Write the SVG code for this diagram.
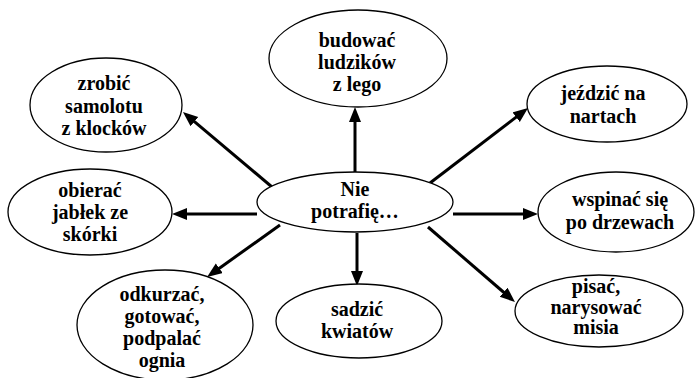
<svg xmlns="http://www.w3.org/2000/svg" width="696" height="378" viewBox="0 0 696 378">
  <defs>
    <marker id="head" markerUnits="userSpaceOnUse" markerWidth="16" markerHeight="13" refX="5" refY="6" orient="auto">
      <path d="M0,0 L15,6 L0,12 z" fill="#000000"/>
    </marker>
  </defs>
  <rect width="696" height="378" fill="#ffffff"/>

  <!-- spokes from the central idea; shared stroke set on the group -->
  <g id="connectors" stroke="#000000" stroke-width="3" fill="none" marker-end="url(#head)">
    <line x1="355" y1="172" x2="355" y2="117"/>
    <line x1="272" y1="187" x2="190.6" y2="118.4"/>
    <line x1="430" y1="183" x2="520.1" y2="114.1"/>
    <line x1="257" y1="214" x2="182" y2="214"/>
    <line x1="453" y1="214" x2="528" y2="214"/>
    <line x1="428" y1="227" x2="507.4" y2="295.5"/>
    <line x1="357" y1="233" x2="357" y2="276"/>
    <line x1="280" y1="225" x2="215.2" y2="271.2"/>
  </g>

  <!-- bubbles; shared outline set once on the wrapper -->
  <g id="nodes" fill="#ffffff" stroke="#000000" stroke-width="1.3">
    <g id="center">
      <ellipse cx="355" cy="202" rx="98" ry="30"/>
      <text x="355" y="196" font-family="Liberation Serif" font-weight="bold" font-size="20" text-anchor="middle" fill="#000000" stroke="none">Nie</text>
      <text x="355" y="218" font-family="Liberation Serif" font-weight="bold" font-size="20" text-anchor="middle" fill="#000000" stroke="none">potrafię…</text>
    </g>

    <g id="lego">
      <ellipse cx="358" cy="58.5" rx="89" ry="48.5"/>
      <text x="357" y="47" font-family="Liberation Serif" font-weight="bold" font-size="20" text-anchor="middle" fill="#000000" stroke="none">budować</text>
      <text x="357" y="69" font-family="Liberation Serif" font-weight="bold" font-size="20" text-anchor="middle" fill="#000000" stroke="none">ludzików</text>
      <text x="357" y="91" font-family="Liberation Serif" font-weight="bold" font-size="20" text-anchor="middle" fill="#000000" stroke="none">z lego</text>
    </g>

    <g id="samolot">
      <ellipse cx="106" cy="105" rx="76" ry="47"/>
      <text x="104" y="90" font-family="Liberation Serif" font-weight="bold" font-size="20" text-anchor="middle" fill="#000000" stroke="none">zrobić</text>
      <text x="104" y="112.5" font-family="Liberation Serif" font-weight="bold" font-size="20" text-anchor="middle" fill="#000000" stroke="none">samolotu</text>
      <text x="104" y="135" font-family="Liberation Serif" font-weight="bold" font-size="20" text-anchor="middle" fill="#000000" stroke="none">z klocków</text>
    </g>

    <g id="narty">
      <ellipse cx="607" cy="104" rx="80" ry="38"/>
      <text x="603" y="100" font-family="Liberation Serif" font-weight="bold" font-size="20" text-anchor="middle" fill="#000000" stroke="none">jeździć na</text>
      <text x="603" y="123" font-family="Liberation Serif" font-weight="bold" font-size="20" text-anchor="middle" fill="#000000" stroke="none">nartach</text>
    </g>

    <g id="jablka">
      <ellipse cx="90" cy="212" rx="82" ry="43"/>
      <text x="90" y="197" font-family="Liberation Serif" font-weight="bold" font-size="20" text-anchor="middle" fill="#000000" stroke="none">obierać</text>
      <text x="90" y="219" font-family="Liberation Serif" font-weight="bold" font-size="20" text-anchor="middle" fill="#000000" stroke="none">jabłek ze</text>
      <text x="90" y="241" font-family="Liberation Serif" font-weight="bold" font-size="20" text-anchor="middle" fill="#000000" stroke="none">skórki</text>
    </g>

    <g id="drzewa">
      <ellipse cx="616" cy="212" rx="78" ry="40"/>
      <text x="620" y="206" font-family="Liberation Serif" font-weight="bold" font-size="20" text-anchor="middle" fill="#000000" stroke="none">wspinać się</text>
      <text x="620" y="229" font-family="Liberation Serif" font-weight="bold" font-size="20" text-anchor="middle" fill="#000000" stroke="none">po drzewach</text>
    </g>

    <g id="misia">
      <ellipse cx="599" cy="311" rx="84" ry="36"/>
      <text x="596" y="293" font-family="Liberation Serif" font-weight="bold" font-size="20" text-anchor="middle" fill="#000000" stroke="none">pisać,</text>
      <text x="596" y="313.5" font-family="Liberation Serif" font-weight="bold" font-size="20" text-anchor="middle" fill="#000000" stroke="none">narysować</text>
      <text x="596" y="334" font-family="Liberation Serif" font-weight="bold" font-size="20" text-anchor="middle" fill="#000000" stroke="none">misia</text>
    </g>

    <g id="kwiaty">
      <ellipse cx="359" cy="321" rx="83" ry="37"/>
      <text x="357" y="316" font-family="Liberation Serif" font-weight="bold" font-size="20" text-anchor="middle" fill="#000000" stroke="none">sadzić</text>
      <text x="357" y="338" font-family="Liberation Serif" font-weight="bold" font-size="20" text-anchor="middle" fill="#000000" stroke="none">kwiatów</text>
    </g>

    <g id="dom">
      <ellipse cx="165" cy="325" rx="88" ry="55"/>
      <text x="162" y="301" font-family="Liberation Serif" font-weight="bold" font-size="20" text-anchor="middle" fill="#000000" stroke="none">odkurzać,</text>
      <text x="162" y="323" font-family="Liberation Serif" font-weight="bold" font-size="20" text-anchor="middle" fill="#000000" stroke="none">gotować,</text>
      <text x="162" y="345" font-family="Liberation Serif" font-weight="bold" font-size="20" text-anchor="middle" fill="#000000" stroke="none">podpalać</text>
      <text x="162" y="367" font-family="Liberation Serif" font-weight="bold" font-size="20" text-anchor="middle" fill="#000000" stroke="none">ognia</text>
    </g>
  </g>
</svg>
